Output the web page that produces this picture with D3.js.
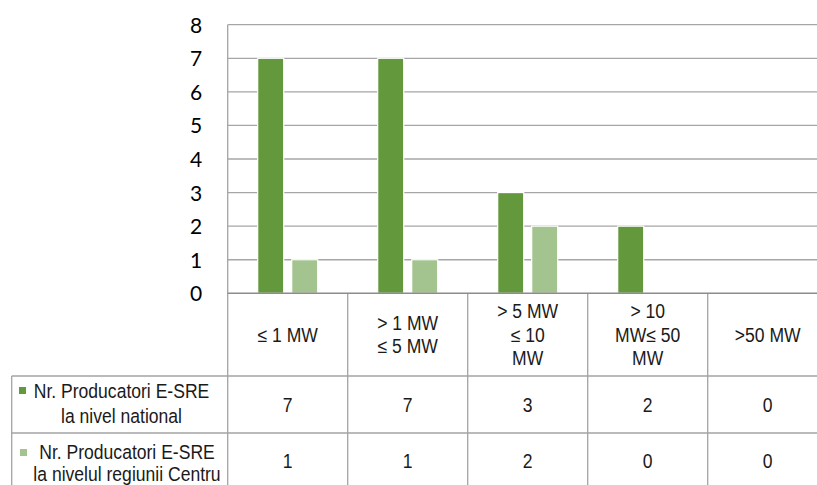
<!DOCTYPE html>
<html>
<head>
<meta charset="utf-8">
<script src="https://cdn.jsdelivr.net/npm/d3@7"></script>
<style>
  html, body { margin: 0; padding: 0; background: #fff; }
  svg { display: block; }
</style>
</head>
<body>
<svg id="chart" width="817" height="485"></svg>
<script>
// Power-size classes (one header cell per class, split into lines)
const categories = ["le1", "1to5", "5to10", "10to50", "gt50"];
const categoryLines = [
  ["≤ 1 MW"],
  ["> 1 MW", "≤ 5 MW"],
  ["> 5 MW", "≤ 10", "MW"],
  ["> 10", "MW≤ 50", "MW"],
  [">50 MW"]
];

// Series
const seriesKeys = ["national", "centru"];
const seriesLabels = [
  ["Nr. Producatori E-SRE", "la nivel national"],
  ["Nr. Producatori E-SRE", "la nivelul regiunii Centru"]
];
const nationalValues = [7, 7, 3, 2, 0];
const centruValues = [1, 1, 2, 0, 0];

const yTicks = [0, 1, 2, 3, 4, 5, 6, 7, 8];

const colors = { national: "#63983d", centru: "#a3c48e" };
const gridColor = "#a6a6a6";
const tableColor = "#a3a3a3";
const textFont = "'Liberation Sans', Arial, sans-serif";
const textSize = 19.5;
const narrow = 0.9; // horizontal condensing of table text

const svg = d3.select("#chart");

// Plot / table geometry
const plotLeft = 227.7, colW = 120;
const plotTop = 24.7, plotBottom = 293.3;
const headerBottom = 376, row1Bottom = 433, row2Bottom = 489.5;
const tableLeft = 11.7;

const x = d3.scaleBand().domain(categories)
  .range([plotLeft, plotLeft + colW * categories.length]).padding(0);
const xInner = d3.scaleBand().domain(seriesKeys).range([30, 90]).paddingInner(0.235);
const y = d3.scaleLinear().domain([0, 8]).range([plotBottom, plotTop]);

const plotRight = plotLeft + colW * categories.length;

// Condensed, centred text at (cx, baseline)
function narrowText(parent, cx, by, str) {
  parent.append("g")
    .attr("transform", `translate(${cx},${by}) scale(${narrow},1)`)
    .append("text")
    .attr("text-anchor", "middle")
    .text(str);
}

// Horizontal gridlines
svg.append("g").selectAll("line").data(yTicks.filter(d => d > 0)).join("line")
  .attr("x1", plotLeft).attr("x2", plotRight)
  .attr("y1", d => y(d)).attr("y2", d => y(d))
  .attr("stroke", gridColor).attr("stroke-width", 1.3);

// Y axis tick labels
const yAxis = d3.axisLeft(y).tickValues(yTicks).tickSize(0).tickPadding(0).tickFormat(d3.format("d"));
const yg = svg.append("g").attr("transform", `translate(${plotLeft - 25.5},0)`).call(yAxis);
yg.select(".domain").remove();
yg.selectAll("text")
  .attr("font-family", "Lato, 'Open Sans', sans-serif")
  .attr("font-size", 21)
  .attr("fill", "#000")
  .attr("dy", "0.36em");

// Bars
const rows = categories.map((c, i) => ({ cat: c, national: nationalValues[i], centru: centruValues[i] }));
const groups = svg.append("g").selectAll("g").data(rows).join("g")
  .attr("transform", d => `translate(${x(d.cat)},0)`);
groups.selectAll("rect")
  .data(d => seriesKeys.map(k => ({ key: k, value: d[k] })).filter(e => e.value > 0))
  .join("rect")
  .attr("x", d => xInner(d.key))
  .attr("width", xInner.bandwidth())
  .attr("y", d => y(d.value))
  .attr("height", d => y(0) - y(d.value))
  .attr("fill", d => colors[d.key])
  .attr("stroke", "#ffffff").attr("stroke-width", 1.2);

// Table lines
const lines = svg.append("g").attr("stroke", tableColor).attr("stroke-width", 1.3);
// plot left border
lines.append("line").attr("x1", plotLeft).attr("x2", plotLeft)
  .attr("y1", plotTop).attr("y2", row2Bottom);
// category column separators
categories.forEach(c => {
  const xr = x(c) + x.bandwidth();
  lines.append("line").attr("x1", xr).attr("x2", xr)
    .attr("y1", plotBottom).attr("y2", row2Bottom);
});
// row separators
[headerBottom, row1Bottom, row2Bottom].forEach(yy => {
  lines.append("line").attr("x1", tableLeft).attr("x2", plotRight)
    .attr("y1", yy).attr("y2", yy);
});
lines.append("line").attr("x1", tableLeft).attr("x2", tableLeft)
  .attr("y1", headerBottom).attr("y2", row2Bottom);

// Zero axis line
svg.append("line").attr("x1", plotLeft).attr("x2", plotRight)
  .attr("y1", y(0)).attr("y2", y(0))
  .attr("stroke", "#8c8c8c").attr("stroke-width", 1.4);

// Header cells
const headerMid = 341.5, lineH = 23.5;
const hdr = svg.append("g").attr("font-family", textFont).attr("font-size", textSize)
  .attr("fill", "#1a1a1a");
categories.forEach((c, i) => {
  const ls = categoryLines[i];
  ls.forEach((t, j) => {
    narrowText(hdr, x(c) + x.bandwidth() / 2, headerMid + (j - (ls.length - 1) / 2) * lineH, t);
  });
});

// Data rows: legend key, label and values
const rowInfo = [
  { values: nationalValues, key: "national", base: 398, gap: 24.5, valueY: 411.7, labelX: 121.5, keyX: 19, keyY: 387 },
  { values: centruValues, key: "centru", base: 459, gap: 21.5, valueY: 468.3, labelX: 127, keyX: 20, keyY: 449 }
];
const body = svg.append("g").attr("font-family", textFont).attr("font-size", textSize).attr("fill", "#1a1a1a");
rowInfo.forEach((r, ri) => {
  body.append("rect").attr("x", r.keyX).attr("y", r.keyY).attr("width", 7).attr("height", 7)
    .attr("fill", colors[r.key]);
  seriesLabels[ri].forEach((t, j) => {
    narrowText(body, r.labelX, r.base + j * r.gap, t);
  });
  categories.forEach((c, i) => {
    narrowText(body, x(c) + x.bandwidth() / 2, r.valueY, r.values[i]);
  });
});
</script>
</body>
</html>
